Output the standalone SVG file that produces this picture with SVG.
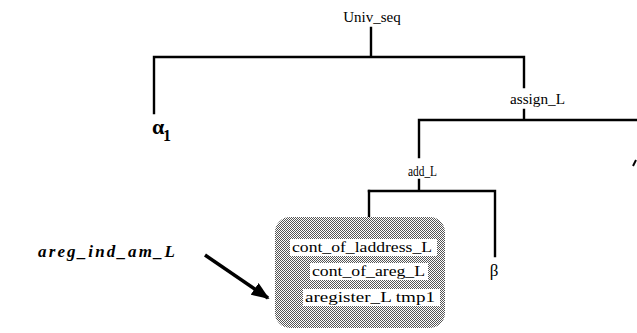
<svg xmlns="http://www.w3.org/2000/svg" width="637" height="333" viewBox="0 0 637 333">
<style>
.t{font-family:"Liberation Serif","Times New Roman",serif;fill:#000}
.e{fill:none;stroke:#000;stroke-width:2.4;stroke-linecap:square}
.s{fill:none;stroke:#000;stroke-width:2}
.ib{fill:#fff;stroke:none}
</style>
<defs>
<pattern id="hatch" width="2" height="2" patternUnits="userSpaceOnUse">
<rect width="2" height="2" fill="#fff"/>
<rect width="1" height="1" fill="#555"/>
<rect x="1" y="1" width="1" height="1" fill="#555"/>
</pattern>
<marker id="sm" viewBox="0 0 6 6" refX="5" refY="3" markerWidth="5" markerHeight="5" orient="auto" markerUnits="userSpaceOnUse">
<path d="M0,0 L6,3 L0,6 z" fill="#000"/>
</marker>
<marker id="big" viewBox="0 0 10 10" refX="9" refY="5" markerWidth="18" markerHeight="14" orient="auto" markerUnits="userSpaceOnUse" preserveAspectRatio="none">
<path d="M0,0 L10,5 L0,10 z" fill="#000"/>
</marker>
</defs>
<g id="connectors">
<path class="e" d="M371,28 V57 M154,57 H524 M154,57 V113 M524,57 V87"/>
<path class="e" d="M524,110 V120 M419,120 H637 M419,120 V157"/>
<path class="e" d="M419,180 V191 M369,191 H495 M495,191 V256"/>
<path class="e" d="M369,191 V233" marker-end="url(#sm)"/>
<path class="s" d="M368,256 V263 M365,257 H371 M365,262 H371"/>
<path class="s" d="M368,280 V289 M365,281 H371 M365,288 H371" stroke-width="2.4"/>
<path d="M633,166 L636,160" stroke="#000" stroke-width="2"/>
<line x1="205" y1="255" x2="268" y2="298" stroke="#000" stroke-width="3.5" marker-end="url(#big)"/>
</g>
<g id="n_univ_seq"><text class="t" x="372" y="22" font-size="15" text-anchor="middle">Univ_seq</text></g>
<g id="n_alpha"><text class="t" x="152" y="134" font-size="22" font-weight="bold">α</text><text class="t" x="163" y="141" font-size="16" font-weight="bold">1</text></g>
<g id="n_assign"><text class="t" x="510" y="104" font-size="15" textLength="55" lengthAdjust="spacingAndGlyphs">assign_L</text></g>
<g id="n_add"><text class="t" x="408" y="176" font-size="15" textLength="29" lengthAdjust="spacingAndGlyphs">add_L</text></g>
<g id="n_beta"><text class="t" x="494" y="276" font-size="17" text-anchor="middle">β</text></g>
<g id="n_group">
<rect x="275" y="217" width="170" height="111" rx="15" ry="15" fill="url(#hatch)"/>
<g id="n_laddress"><rect class="ib" x="290" y="239" width="147" height="17"/><text class="t" x="292" y="252" font-size="15" textLength="140" lengthAdjust="spacingAndGlyphs">cont_of_laddress_L</text></g>
<g id="n_areg"><rect class="ib" x="310" y="263" width="118" height="17"/><text class="t" x="312" y="276" font-size="15" textLength="113" lengthAdjust="spacingAndGlyphs">cont_of_areg_L</text></g>
<g id="n_aregister"><rect class="ib" x="303" y="289" width="137" height="17"/><text class="t" x="305" y="302" font-size="15" textLength="130" lengthAdjust="spacingAndGlyphs">aregister_L tmp1</text></g>
</g>
<g id="n_label"><text class="t" x="38" y="257" font-size="17" font-weight="bold" font-style="italic" textLength="137" lengthAdjust="spacing">areg_ind_am_L</text></g>
</svg>
